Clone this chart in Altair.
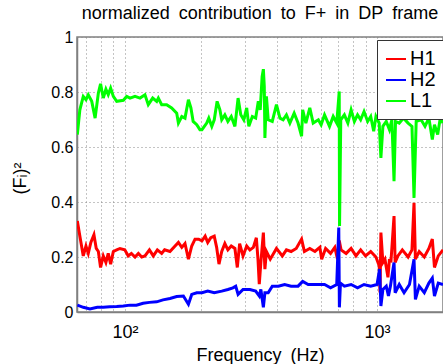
import altair as alt
import pandas as pd

# ---- data ----
L1_freq = [64.7, 66.2, 68.3, 70, 71.5, 73.8, 76.1, 78.4, 80, 82, 84, 85.8, 87.7, 89.9, 92.7, 98.5,
           101.6, 104.7, 109.6, 114.7, 120, 123.7, 128.8, 133.6, 135.6, 139.8, 146.3, 153.1, 160.4,
           162.9, 168, 173, 178.5, 182.6, 186.4, 192.6, 198.3, 202, 211, 215, 221, 226, 232, 238,
           242, 249, 256, 264, 273, 281, 288, 296, 304, 310, 320, 330, 338, 344, 350, 354, 357,
           359, 364, 370, 384, 399, 412, 424, 437, 451, 469, 486, 502, 507, 522, 541, 558, 585,
           600, 619, 648, 670, 692, 708, 710, 718, 742, 766, 789, 813, 837, 861, 888, 918, 944,
           970, 990, 1020, 1036, 1055, 1088, 1120, 1145, 1168, 1184, 1225, 1274, 1328, 1376, 1402,
           1430, 1496, 1550, 1606, 1657, 1690, 1740, 1782, 1827]
L1_val = [0.645, 0.735, 0.784, 0.772, 0.79, 0.766, 0.705, 0.796, 0.83, 0.778, 0.81, 0.79, 0.814,
          0.784, 0.766, 0.77, 0.784, 0.778, 0.784, 0.778, 0.79, 0.754, 0.778, 0.766, 0.778, 0.754,
          0.754, 0.742, 0.723, 0.687, 0.711, 0.705, 0.772, 0.742, 0.693, 0.681, 0.663, 0.663,
          0.687, 0.705, 0.675, 0.699, 0.766, 0.735, 0.699, 0.717, 0.693, 0.711, 0.675, 0.778,
          0.717, 0.699, 0.742, 0.675, 0.711, 0.705, 0.766, 0.735, 0.856, 0.883, 0.82, 0.633,
          0.784, 0.699, 0.693, 0.754, 0.705, 0.699, 0.717, 0.687, 0.723, 0.687, 0.639, 0.735,
          0.687, 0.742, 0.687, 0.699, 0.681, 0.717, 0.675, 0.711, 0.687, 0.802, 0.313, 0.699,
          0.717, 0.687, 0.735, 0.693, 0.717, 0.699, 0.729, 0.693, 0.711, 0.657, 0.711, 0.687,
          0.56, 0.675, 0.693, 0.663, 0.699, 0.476, 0.693, 0.687, 0.705, 0.687, 0.675, 0.415,
          0.693, 0.699, 0.675, 0.705, 0.627, 0.681, 0.645, 0.705, 0.687]

H1_freq = [64.7, 66.2, 68.3, 70, 71.5, 73.2, 75.3, 76.9, 78.4, 80, 82, 84, 85.8, 87.7, 89.9, 92.7,
           95.5, 99.8, 103, 106, 109.6, 113, 116.5, 120, 125, 129.5, 134.4, 139.8, 143.6, 150.8,
           158, 162.9, 168, 173, 178.5, 184, 189.6, 196, 202, 208, 213, 219, 226, 231, 236, 242,
           249, 256, 264, 273, 279, 285, 294, 304, 313, 323, 332, 337, 341, 346, 354, 359, 364,
           377, 399, 421, 437, 456, 478, 502, 515, 541, 567, 593, 603, 625, 654, 680, 697, 708,
           720, 754, 789, 825, 861, 900, 944, 990, 1020, 1028, 1036, 1055, 1075, 1105, 1120,
           1135, 1168, 1180, 1210, 1260, 1328, 1376, 1402, 1420, 1470, 1540, 1606, 1657, 1690,
           1750, 1827]
H1_val = [0.331, 0.276, 0.204, 0.24, 0.213, 0.253, 0.281, 0.231, 0.22, 0.162, 0.204, 0.18, 0.213,
          0.174, 0.22, 0.226, 0.231, 0.226, 0.204, 0.213, 0.2, 0.213, 0.2, 0.204, 0.226, 0.204,
          0.226, 0.213, 0.226, 0.22, 0.24, 0.253, 0.235, 0.249, 0.192, 0.24, 0.265, 0.265, 0.259,
          0.276, 0.253, 0.27, 0.276, 0.235, 0.174, 0.22, 0.249, 0.226, 0.24, 0.231, 0.162, 0.249,
          0.204, 0.24, 0.226, 0.235, 0.27, 0.192, 0.101, 0.18, 0.289, 0.156, 0.22, 0.192, 0.231,
          0.204, 0.226, 0.22, 0.231, 0.265, 0.22, 0.231, 0.22, 0.235, 0.192, 0.231, 0.213, 0.235,
          0.192, 0.26, 0.226, 0.213, 0.231, 0.204, 0.226, 0.204, 0.22, 0.2, 0.168, 0.071, 0.289,
          0.18, 0.192, 0.126, 0.192, 0.18, 0.349, 0.18, 0.204, 0.226, 0.2, 0.226, 0.397, 0.192,
          0.22, 0.2, 0.231, 0.265, 0.162, 0.204, 0.226]

H2_freq = [64.7, 68.3, 72.6, 77.6, 82, 87, 92.7, 98.5, 104.7, 111, 118, 125, 133.6, 141.5, 150.8,
           160.4, 170.5, 178.5, 184, 192.6, 202, 213, 226, 242, 256, 268, 275, 281, 294, 313, 330,
           341, 346, 354, 359, 370, 384, 406, 430, 456, 486, 507, 533, 567, 602, 619, 654, 692,
           705, 709, 716, 742, 789, 837, 888, 944, 1000, 1024, 1036, 1055, 1088, 1110, 1130, 1168,
           1180, 1225, 1280, 1345, 1402, 1420, 1470, 1540, 1606, 1657, 1690, 1750, 1827]
H2_val = [0.025, 0.017, 0.011, 0.017, 0.017, 0.019, 0.02, 0.022, 0.025, 0.025, 0.032, 0.035, 0.037,
          0.044, 0.049, 0.056, 0.058, 0.028, 0.064, 0.07, 0.07, 0.076, 0.07, 0.076, 0.082, 0.088,
          0.094, 0.064, 0.082, 0.082, 0.076, 0.058, 0.082, 0.017, 0.07, 0.07, 0.094, 0.094, 0.1,
          0.094, 0.094, 0.111, 0.1, 0.1, 0.1, 0.1, 0.088, 0.1, 0.307, 0.017, 0.105, 0.094, 0.1,
          0.088, 0.1, 0.094, 0.1, 0.156, 0.022, 0.082, 0.094, 0.058, 0.094, 0.18, 0.07, 0.1, 0.07,
          0.1, 0.192, 0.046, 0.094, 0.07, 0.105, 0.123, 0.058, 0.105, 0.1]

series_names = ["H1", "H2", "L1"]
series_colors = ["#ff0000", "#0000ff", "#00ff00"]
y_ticks = [0, 0.2, 0.4, 0.6, 0.8, 1]
x_grid = [70, 80, 90, 100, 200, 300, 400, 500, 600, 700, 800, 900, 1000]
x_domain = [64.5, 1827]

rows = []
for name, fr, vals in (("H1", H1_freq, H1_val), ("H2", H2_freq, H2_val), ("L1", L1_freq, L1_val)):
    for i, (f, v) in enumerate(zip(fr, vals)):
        rows.append({"series": name, "freq": f, "val": v, "order": i})
df = pd.DataFrame(rows)

FONT = "Liberation Sans"
SP = "\u2002"  # wide space, as in the reference typesetting

chart = alt.Chart(df).mark_line(strokeWidth=3, clip=True).encode(
    x=alt.X("freq:Q",
            scale=alt.Scale(type="log", domain=x_domain, nice=False),
            axis=alt.Axis(values=x_grid,
                          labelExpr="datum.value == 100 ? '10²' : datum.value == 1000 ? '10³' : ''",
                          title="Frequency" + SP + "(Hz)", titleFontSize=18, titleFont=FONT,
                          titleFontWeight="normal", titleColor="#000",
                          titleBaseline="alphabetic", titleY=48,
                          labelFontSize=18, labelFont=FONT, labelColor="#000",
                          labelPadding=11, ticks=False, labelFlush=False,
                          gridDash=[1, 3], gridColor="#888", gridOpacity=1,
                          domainColor="#808080", domainWidth=1.5)),
    y=alt.Y("val:Q",
            scale=alt.Scale(domain=[0, 1], nice=False),
            axis=alt.Axis(values=y_ticks, format="~g",
                          title="(Fᵢ)²", titleFontSize=18, titleFont=FONT,
                          titleFontWeight="normal", titleColor="#000",
                          titleX=-57, titleY=141, titleAngle=-90, titleBaseline="middle",
                          labelFontSize=16, labelFont=FONT, labelColor="#000",
                          labelPadding=4, ticks=False,
                          gridDash=[1, 3], gridColor="#888", gridOpacity=1,
                          domainColor="#808080", domainWidth=1.5)),
    color=alt.Color("series:N",
                    scale=alt.Scale(domain=series_names, range=series_colors),
                    legend=alt.Legend(title=None, orient="none", legendX=300, legendY=3,
                                      fillColor="white", strokeColor="#333", padding=8,
                                      symbolType="stroke", symbolSize=400, symbolStrokeWidth=2,
                                      labelFontSize=20, labelFont=FONT, labelColor="#000",
                                      rowPadding=0, labelOffset=3)),
    order="order:Q",
).properties(
    width=366, height=275,
    autosize=alt.AutoSizeParams(type="none"),
    padding={"left": 77, "top": 37, "right": 0, "bottom": 52},
    title=alt.TitleParams(SP.join(["normalized", "contribution", "to", "F+", "in", "DP", "frame"]),
                          fontSize=18, font=FONT, fontWeight="normal", color="#000",
                          anchor="middle", baseline="alphabetic", offset=0, dy=8),
).configure_view(stroke="#808080", strokeWidth=1.5)

chart.save("out.html", embed_options={"renderer": "svg", "actions": False})
